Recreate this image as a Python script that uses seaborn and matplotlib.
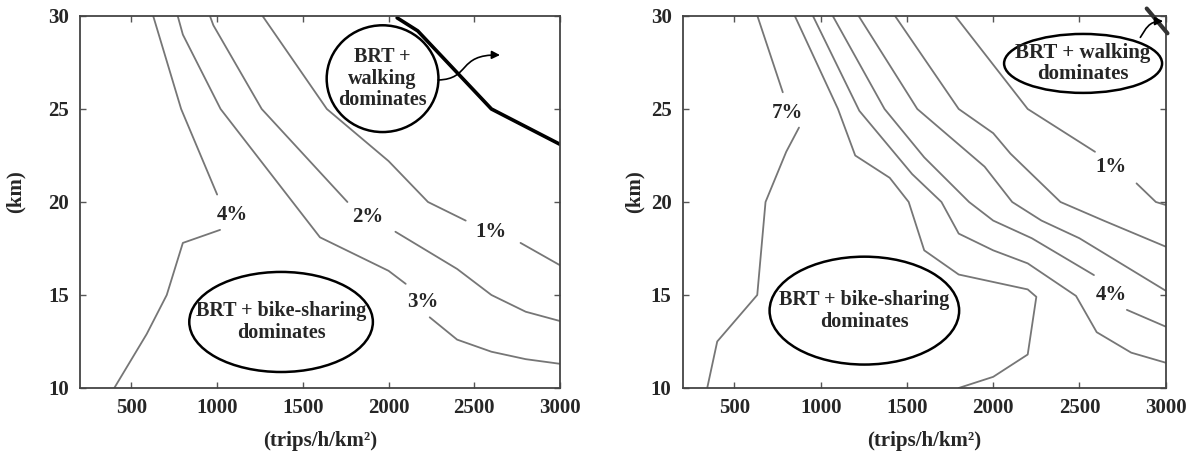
import numpy as np
import matplotlib
matplotlib.use("Agg")
import matplotlib.pyplot as plt
from matplotlib.patches import Ellipse, FancyArrowPatch
from matplotlib.path import Path
import seaborn as sns

# ---- contour lines, left panel (density vs. distance) ----
# each contour may be split in two pieces where its label sits
l4_a_x = [627, 790, 1000];                 l4_a_y = [30, 25, 20.4]
l4_b_x = [1017, 800, 706, 589, 400];      l4_b_y = [18.5, 17.8, 15.0, 12.9, 10.0]
l3_a_x = [770, 800, 1020, 1600, 2000, 2100]; l3_a_y = [30, 29.0, 25.0, 18.1, 16.3, 15.6]
l3_b_x = [2240, 2400, 2600, 2800, 3000];  l3_b_y = [13.8, 12.6, 11.95, 11.55, 11.3]
l2_a_x = [958, 978, 1260, 1760];          l2_a_y = [30, 29.5, 25.0, 20.0]
l2_b_x = [2040, 2400, 2600, 2800, 3000];  l2_b_y = [18.4, 16.4, 15.0, 14.1, 13.6]
l1_a_x = [1265, 1640, 2000, 2230, 2450];  l1_a_y = [30, 25.0, 22.2, 20.0, 19.0]
l1_b_x = [2770, 3000];                    l1_b_y = [17.8, 16.6]
l_bound_x = [2050, 2170, 2600, 3000];     l_bound_y = [29.9, 29.2, 25.0, 23.1]

l_labels = ["4%", "3%", "2%", "1%"]
l_label_x = [1090, 2200, 1880, 2595]
l_label_y = [19.3, 14.6, 19.2, 18.4]

# ---- contour lines, right panel ----
r7_a_x = [633, 780];                       r7_a_y = [30, 25.9]
r7_b_x = [874, 800, 680, 632, 400, 342];   r7_b_y = [24.0, 22.7, 20.0, 15.0, 12.5, 10.0]
r6_x = [850, 1100, 1200, 1400, 1510, 1600, 1800, 2200, 2250, 2200, 2000, 1800]
r6_y = [30, 25.0, 22.5, 21.3, 20.0, 17.4, 16.1, 15.3, 14.9, 11.8, 10.6, 10.0]
r5_x = [955, 1224, 1530, 1700, 1800, 2000, 2200, 2480, 2600, 2800, 3000]
r5_y = [30, 24.9, 21.5, 20.0, 18.3, 17.4, 16.7, 14.95, 13.0, 11.9, 11.36]
r4_a_x = [1070, 1370, 1600, 1860, 2000, 2224, 2584]
r4_a_y = [30, 25.0, 22.4, 20.0, 19.0, 18.05, 16.07]
r4_b_x = [2775, 3000];                     r4_b_y = [14.2, 13.3]
r3_x = [1220, 1560, 1950, 2110, 2280, 2500, 3000]
r3_y = [30, 25.0, 21.9, 20.0, 19.0, 18.05, 15.23]
r2_x = [1431, 1800, 2000, 2100, 2390, 2640, 3000]
r2_y = [30, 25.0, 23.7, 22.6, 20.0, 19.0, 17.6]
r1_a_x = [1780, 2200, 2590];               r1_a_y = [30, 25.0, 22.7]
r1_b_x = [2831, 2943, 3000];               r1_b_y = [21.0, 20.0, 19.84]
r_bound_x = [2890, 3010];                  r_bound_y = [30.4, 29.07]

r_labels = ["7%", "4%", "1%"]
r_label_x = [806, 2685, 2685]
r_label_y = [24.8, 15.0, 21.9]

x_ticks = [500, 1000, 1500, 2000, 2500, 3000]
y_ticks = [10, 15, 20, 25, 30]

sns.set_theme(style="ticks")
plt.rcParams["font.family"] = ["Liberation Serif", "DejaVu Serif"]
plt.rcParams["font.weight"] = "bold"
plt.rcParams["axes.labelweight"] = "bold"

GRAY = "#767676"
FS = 15

fig = plt.figure(figsize=(11.94, 4.53), dpi=100)
ax_l = fig.add_axes([0.0670, 0.1435, 0.4020, 0.8212])
ax_r = fig.add_axes([0.5718, 0.1435, 0.4045, 0.8212])


def draw_segments(ax, segs):
    for xs, ys in segs:
        sns.lineplot(x=xs, y=ys, sort=False, estimator=None, color=GRAY,
                     linewidth=1.3, ax=ax)


def style_axes(ax, ylabel_x):
    ax.set_xlim(200, 3000)
    ax.set_ylim(10, 30)
    ax.set_xticks(x_ticks)
    ax.set_yticks(y_ticks)
    ax.tick_params(direction="in", top=True, right=True, length=4,
                   width=1.0, color="#555555", labelsize=FS)
    ax.tick_params(axis="y", pad=8)
    ax.tick_params(axis="x", pad=7)
    for lab in ax.get_xticklabels() + ax.get_yticklabels():
        lab.set_fontweight("bold")
    for sp in ax.spines.values():
        sp.set_linewidth(1.3)
        sp.set_color("#444444")
    ax.set_xlabel("(trips/h/km²)", fontsize=FS, fontweight="bold")
    ax.set_ylabel("(km)", fontsize=FS, fontweight="bold")
    ax.xaxis.set_label_coords(0.5, -0.142)
    ax.xaxis.label.set_va("center")
    ax.yaxis.set_label_coords(ylabel_x, 0.527)
    ax.yaxis.label.set_va("center")


def bubble(ax, cx, cy, w, h, text, size=14.5):
    ax.add_patch(Ellipse((cx, cy), w, h, facecolor="white", edgecolor="black",
                         linewidth=1.8, zorder=4))
    ax.text(cx, cy, text, ha="center", va="center", fontsize=size,
            fontweight="bold", linespacing=1.12, zorder=5)


def curved_arrow(ax, pts):
    path = Path(pts, [Path.MOVETO, Path.CURVE4, Path.CURVE4, Path.CURVE4])
    ax.add_patch(FancyArrowPatch(path=path, arrowstyle="-|>", mutation_scale=12,
                                 color="black", linewidth=1.2, zorder=6))


# ---- left panel ----
draw_segments(ax_l, [(l4_a_x, l4_a_y), (l4_b_x, l4_b_y), (l3_a_x, l3_a_y),
                     (l3_b_x, l3_b_y), (l2_a_x, l2_a_y), (l2_b_x, l2_b_y),
                     (l1_a_x, l1_a_y), (l1_b_x, l1_b_y)])
sns.lineplot(x=l_bound_x, y=l_bound_y, sort=False, estimator=None,
             color="black", linewidth=2.6, ax=ax_l)
for t, x, y in zip(l_labels, l_label_x, l_label_y):
    ax_l.text(x, y, t, ha="center", va="center", fontsize=FS, fontweight="bold")
bubble(ax_l, 1965, 26.63, 652, 5.74, "BRT +\nwalking\ndominates")
bubble(ax_l, 1373, 13.55, 1071, 5.38, "BRT + bike-sharing\ndominates")
curved_arrow(ax_l, [(2289, 26.56), (2480, 26.6), (2400, 27.95), (2650, 27.9)])
style_axes(ax_l, -0.135)

# ---- right panel ----
draw_segments(ax_r, [(r7_a_x, r7_a_y), (r7_b_x, r7_b_y), (r6_x, r6_y),
                     (r5_x, r5_y), (r4_a_x, r4_a_y), (r4_b_x, r4_b_y),
                     (r3_x, r3_y), (r2_x, r2_y), (r1_a_x, r1_a_y),
                     (r1_b_x, r1_b_y)])
ax_r.plot(r_bound_x, r_bound_y, color="#333333", linewidth=3.0,
          clip_on=False, zorder=6)
for t, x, y in zip(r_labels, r_label_x, r_label_y):
    ax_r.text(x, y, t, ha="center", va="center", fontsize=FS, fontweight="bold")
bubble(ax_r, 2521, 27.45, 916, 3.17, "BRT + walking\ndominates", size=15)
bubble(ax_r, 1253, 14.16, 1099, 5.8, "BRT + bike-sharing\ndominates")
curved_arrow(ax_r, [(2853, 28.85), (2885, 29.3), (2900, 29.72), (2985, 29.72)])
style_axes(ax_r, -0.10)

fig.savefig("out.png", dpi=100)
